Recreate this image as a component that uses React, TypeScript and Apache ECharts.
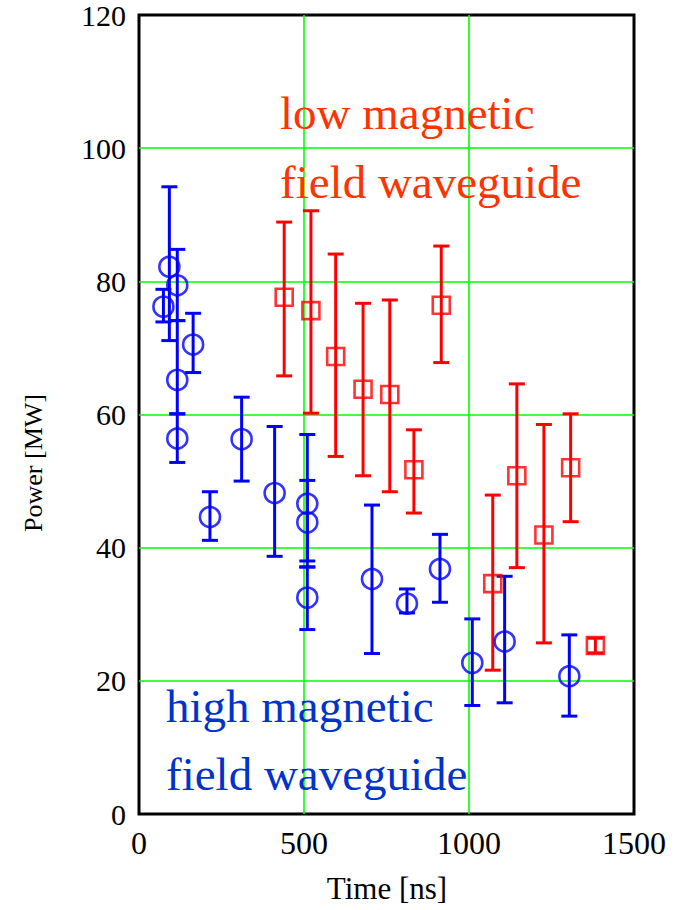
import React, { useEffect, useRef } from "react";
import * as echarts from "echarts";

// High magnetic field waveguide measurements (time in ns, power in MW)
const blueTime = [74, 92, 116, 116, 116, 164, 215, 311, 411, 510, 510, 510, 706, 812, 912, 1010, 1108, 1304];
const blueValue = [76.2, 82.2, 79.4, 65.2, 56.4, 70.5, 44.6, 56.3, 48.2, 46.6, 43.8, 32.5, 35.3, 31.6, 36.8, 22.7, 25.9, 20.7];
const blueLow = [73.9, 71.1, 74.1, 60.1, 52.8, 66.3, 41.1, 50.0, 38.7, 37.1, 38.0, 27.7, 24.1, 30.2, 31.8, 16.3, 16.7, 14.7];
const blueHigh = [78.8, 94.2, 84.8, 74.1, 60.1, 75.2, 48.4, 62.6, 58.2, 57.0, 50.1, 37.1, 46.4, 33.8, 42.0, 29.3, 35.7, 26.9];

// Low magnetic field waveguide measurements
const redTime = [440, 521, 596, 679, 760, 833, 916, 1072, 1145, 1227, 1308, 1383];
const redValue = [77.6, 75.6, 68.7, 63.8, 63.0, 51.7, 76.4, 34.6, 50.8, 41.9, 52.0, 25.3];
const redLow = [65.8, 60.2, 53.7, 50.8, 48.4, 45.2, 67.8, 21.6, 37.0, 25.7, 43.9, 24.2];
const redHigh = [88.9, 90.6, 84.1, 76.7, 77.2, 57.7, 85.3, 47.9, 64.6, 58.5, 60.1, 26.4];

const xTicks = [0, 500, 1000, 1500];
const yTicks = [0, 20, 40, 60, 80, 100, 120];

const BLUE = "#0000ff";
const RED = "#ff0000";
const FONT = "'Liberation Serif', 'Times New Roman', serif";

function errorBars(color: string) {
  return (params: any, api: any) => {
    const x = api.value(0);
    const top = api.coord([x, api.value(2)]);
    const bot = api.coord([x, api.value(1)]);
    const hw = 8;
    const style = { stroke: color, lineWidth: 3 };
    return {
      type: "group",
      children: [
        { type: "line", shape: { x1: top[0], y1: top[1], x2: bot[0], y2: bot[1] }, style },
        { type: "line", shape: { x1: top[0] - hw, y1: top[1], x2: top[0] + hw, y2: top[1] }, style },
        { type: "line", shape: { x1: bot[0] - hw, y1: bot[1], x2: bot[0] + hw, y2: bot[1] }, style },
      ],
    };
  };
}

export default function App() {
  const ref = useRef<HTMLDivElement>(null);

  useEffect(() => {
    if (!ref.current) return;
    const chart = echarts.init(ref.current, null, { renderer: "svg" });

    const blueBars = blueTime.map((t, i) => [t, blueLow[i], blueHigh[i]]);
    const redBars = redTime.map((t, i) => [t, redLow[i], redHigh[i]]);
    const bluePts = blueTime.map((t, i) => [t, blueValue[i]]);
    const redPts = redTime.map((t, i) => [t, redValue[i]]);

    const gridLine = {
      show: true,
      showMinLine: false,
      showMaxLine: false,
      lineStyle: { color: "#00ff00", width: 1.6 },
    };

    chart.setOption({
      animation: false,
      backgroundColor: "#ffffff",
      grid: {
        left: 139,
        right: 42,
        top: 14,
        bottom: 96,
        show: true,
        borderColor: "#000000",
        borderWidth: 3,
        backgroundColor: "transparent",
      },
      xAxis: {
        type: "value",
        min: xTicks[0],
        max: xTicks[xTicks.length - 1],
        interval: 500,
        axisLine: { show: false },
        axisTick: { show: false },
        splitLine: gridLine,
        axisLabel: {
          color: "#000",
          fontFamily: FONT,
          fontSize: 32,
          margin: 13,
          formatter: (v: number) => String(v),
        },
      },
      yAxis: {
        type: "value",
        min: yTicks[0],
        max: yTicks[yTicks.length - 1],
        interval: 20,
        axisLine: { show: false },
        axisTick: { show: false },
        splitLine: gridLine,
        axisLabel: {
          color: "#000",
          fontFamily: FONT,
          fontSize: 30,
          lineHeight: 26,
          margin: 13,
          formatter: (v: number) => String(v),
        },
      },
      series: [
        {
          type: "custom",
          data: blueBars,
          encode: { x: 0, y: [1, 2] },
          renderItem: errorBars(BLUE),
          z: 3,
        },
        {
          type: "custom",
          data: redBars,
          encode: { x: 0, y: [1, 2] },
          renderItem: errorBars(RED),
          z: 3,
        },
        {
          type: "scatter",
          data: bluePts,
          symbol: "circle",
          symbolSize: 20,
          itemStyle: { color: "rgba(0,0,0,0)", borderColor: BLUE, borderWidth: 2.6 },
          z: 4,
        },
        {
          type: "scatter",
          data: redPts,
          symbol: "rect",
          symbolSize: 17,
          itemStyle: { color: "rgba(0,0,0,0)", borderColor: RED, borderWidth: 2.6 },
          z: 4,
        },
      ],
      graphic: [
        {
          type: "text",
          left: 280,
          top: 78,
          style: {
            text: "low magnetic\nfield waveguide",
            fill: "#ff3300",
            font: `47px ${FONT}`,
            lineHeight: 69,
          },
          z: 10,
        },
        {
          type: "text",
          left: 166,
          top: 672,
          style: {
            text: "high magnetic\nfield waveguide",
            fill: "#0033cc",
            font: `47px ${FONT}`,
            lineHeight: 68,
          },
          z: 10,
        },
        {
          type: "text",
          x: 387,
          y: 888,
          style: {
            text: "Time [ns]",
            fill: "#000",
            font: `31px ${FONT}`,
            align: "center",
            verticalAlign: "middle",
          },
        },
        {
          type: "text",
          x: 33,
          y: 463,
          rotation: Math.PI / 2,
          style: {
            text: "Power [MW]",
            fill: "#000",
            font: `26px ${FONT}`,
            align: "center",
            verticalAlign: "middle",
          },
        },
      ],
    });

    return () => chart.dispose();
  }, []);

  return (
    <div
      ref={ref}
      style={{ position: "absolute", left: 0, top: 0, width: 676, height: 910, background: "#fff" }}
    />
  );
}
